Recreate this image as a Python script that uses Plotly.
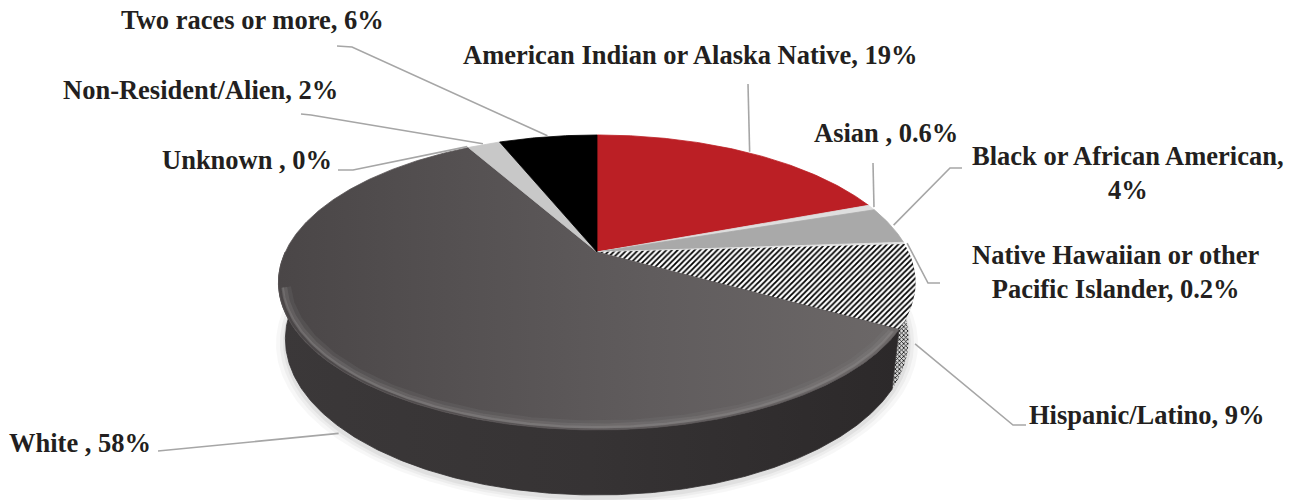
import numpy as np
import plotly.graph_objects as go

# ---------------- data ----------------
categories = ["American Indian or Alaska Native", "Asian ", "Black or African American",
              "Native Hawaiian or other<br>Pacific Islander", "Hispanic/Latino", "White ",
              "Unknown ", "Non-Resident/Alien", "Two races or more"]
values = [19, 0.6, 4, 0.2, 9, 58, 0, 2, 6]
label_seps = [", ", ", ", ",<br>", ", ", ", ", ", ", ", ", ", ", ", "]

# ---------------- styles ----------------
top_colors = ["#bb1f25", "#dedede", "#a9a9a9", "#e2e2e2", None, "#615d5e", "#bfbfbf", "#c8c8c8", "#000000"]
side_colors = ["#8e171c", "#b0b0b0", "#808080", "#b5b5b5", None, "#343132", "#9a9a9a", "#a0a0a0", "#000000"]
TEXT_COLOR = "#231f20"
LEADER_COLOR = "#a6a6a6"
FONT = "Liberation Serif"
FONT_SIZE = 26.5

# label layout (pixel positions in the 1303x500 canvas)
label_pos = [(690, 55), (886, 133), (1128, 173), (1116, 272), (1147, 415),
             (80, 443), (247, 160), (200, 90), (252, 20)]
leader_start = [(748, 84), (873, 163), (962, 168), (940, 283), (1026, 425),
                (158, 451), (338, 170), (301, 114), (337, 46)]
leader_elbow = [None, None, (950, 168), (928, 283), (1013, 425),
                None, (353, 170), (311, 115), (352, 47)]

# ---------------- 3D projection of a tilted cylinder ----------------
F, D, COS_A, SIN_A, H = 1346.0, 4.318, 0.892, 0.453, 0.2043
CX, CY = 597.0, 252.0


def proj(phi_deg, z=0.0, r=1.0):
    p = np.radians(np.asarray(phi_deg, dtype=float))
    X, Y = r * np.cos(p), r * np.sin(p)
    d = D + Y * COS_A - z * SIN_A
    u = F * X / d
    v = F * (Y * SIN_A + z * COS_A) / d
    return CX + u, CY - v


def arc(a_from, a_to, z=0.0, r=1.0):
    n = max(2, int(abs(a_to - a_from) / 0.5) + 2)
    ph = np.linspace(a_from, a_to, n)
    return proj(ph, z, r)


total = float(sum(values))
starts, ends = [], []
cum = 0.0
for v in values:
    a0 = 90.0 - cum * 360.0 / total
    cum += v
    a1 = 90.0 - cum * 360.0 / total
    starts.append(a0)
    ends.append(a1)

fig = go.Figure()

# soft shadow under the pie
for k, alpha in [(1.03, 0.03), (1.018, 0.04), (1.008, 0.05)]:
    sx, sy = arc(-200, 20, z=-H - 0.01, r=k)
    fig.add_trace(go.Scatter(x=np.r_[sx, CX], y=np.r_[sy, CY + 60], fill="toself", mode="lines",
                             line=dict(width=0), fillcolor=f"rgba(0,0,0,{alpha})", hoverinfo="skip"))

# side walls (front half only)
for i, v in enumerate(values):
    if v <= 0:
        continue
    lo = max(ends[i], -180.0)
    hi = min(starts[i], 0.0)
    if hi <= lo:
        continue
    tx, ty = arc(lo, hi, 0.0)
    bx, by = arc(hi, lo, -H)
    xs = np.r_[tx, bx, tx[0]]
    ys = np.r_[ty, by, ty[0]]
    if top_colors[i] is None:
        fig.add_trace(go.Scatter(x=xs, y=ys, fill="toself", mode="lines", line=dict(width=0),
                                 fillcolor="#c8c8c8",
                                 fillpattern=dict(shape="x", fgcolor="#111111", bgcolor="#d6d6d6",
                                                  size=3, solidity=0.45, fillmode="replace"),
                                 hoverinfo="skip"))
    else:
        fig.add_trace(go.Scatter(x=xs, y=ys, fill="toself", mode="lines",
                                 line=dict(width=0.8, color=side_colors[i]),
                                 fillgradient=dict(type="horizontal",
                                                   colorscale=[[0, "#3b3839"], [0.5, "#363334"], [1, "#2c292a"]]),
                                 hoverinfo="skip"))

# top faces
for i, v in enumerate(values):
    if v <= 0:
        continue
    ax_, ay_ = arc(starts[i], ends[i], 0.0)
    xs = np.r_[CX, ax_, CX]
    ys = np.r_[CY, ay_, CY]
    if top_colors[i] is None:
        fig.add_trace(go.Scatter(x=xs, y=ys, fill="toself", mode="lines", line=dict(width=0),
                                 fillcolor="#ffffff",
                                 fillpattern=dict(shape="/", fgcolor="#000000", bgcolor="#ffffff",
                                                  size=4, solidity=0.45, fillmode="replace"),
                                 hoverinfo="skip"))
    elif i == 5:
        fig.add_trace(go.Scatter(x=xs, y=ys, fill="toself", mode="lines",
                                 line=dict(width=0.8, color="#5a5657"),
                                 fillgradient=dict(type="horizontal",
                                                   colorscale=[[0, "#4a4647"], [0.6, "#605c5d"], [1, "#6c6868"]]),
                                 hoverinfo="skip"))
    else:
        fig.add_trace(go.Scatter(x=xs, y=ys, fill="toself", mode="lines",
                                 line=dict(width=0.8, color=top_colors[i]),
                                 fillcolor=top_colors[i], hoverinfo="skip"))

# soft bevel highlight along the front rim of the large slice
w = 5
lo = max(ends[w], -180.0) + 14
hi = min(starts[w], 0.0) - 1
for rr, col, wd in [(0.975, "rgba(130,126,126,0.18)", 8), (0.982, "rgba(140,136,136,0.25)", 5),
                    (0.988, "rgba(150,146,146,0.35)", 2.5)]:
    hx, hy = arc(lo, hi, 0.0, r=rr)
    fig.add_trace(go.Scatter(x=hx, y=hy, mode="lines", line=dict(color=col, width=wd),
                             hoverinfo="skip"))

# leader lines and labels
annotations = []
for i, v in enumerate(values):
    mid = (starts[i] + ends[i]) / 2.0
    if -180.0 < mid < 0.0:
        ex, ey = proj(mid, z=-H, r=1.02)
    else:
        ex, ey = proj(mid, z=0.0, r=1.01)
    pts = [leader_start[i]]
    if leader_elbow[i] is not None:
        pts.append(leader_elbow[i])
    pts.append((float(ex), float(ey)))
    fig.add_trace(go.Scatter(x=[p[0] for p in pts], y=[p[1] for p in pts], mode="lines",
                             line=dict(color=LEADER_COLOR, width=1.6), hoverinfo="skip"))
    text = f"{categories[i]}{label_seps[i]}{v:g}%"
    annotations.append(dict(x=label_pos[i][0], y=label_pos[i][1], xref="x", yref="y",
                            text=text, showarrow=False, xanchor="center", yanchor="middle",
                            align="center",
                            font=dict(family=FONT, size=FONT_SIZE, color=TEXT_COLOR, weight="bold")))

fig.update_layout(
    width=1303, height=500,
    margin=dict(l=0, r=0, t=0, b=0),
    paper_bgcolor="white", plot_bgcolor="white",
    showlegend=False,
    xaxis=dict(range=[0, 1303], visible=False, fixedrange=True),
    yaxis=dict(range=[500, 0], visible=False, fixedrange=True),
    annotations=annotations,
)

fig.write_html("out.html", config={"displayModeBar": False},
               post_script="document.body.style.margin='0';document.body.style.overflow='hidden';")
